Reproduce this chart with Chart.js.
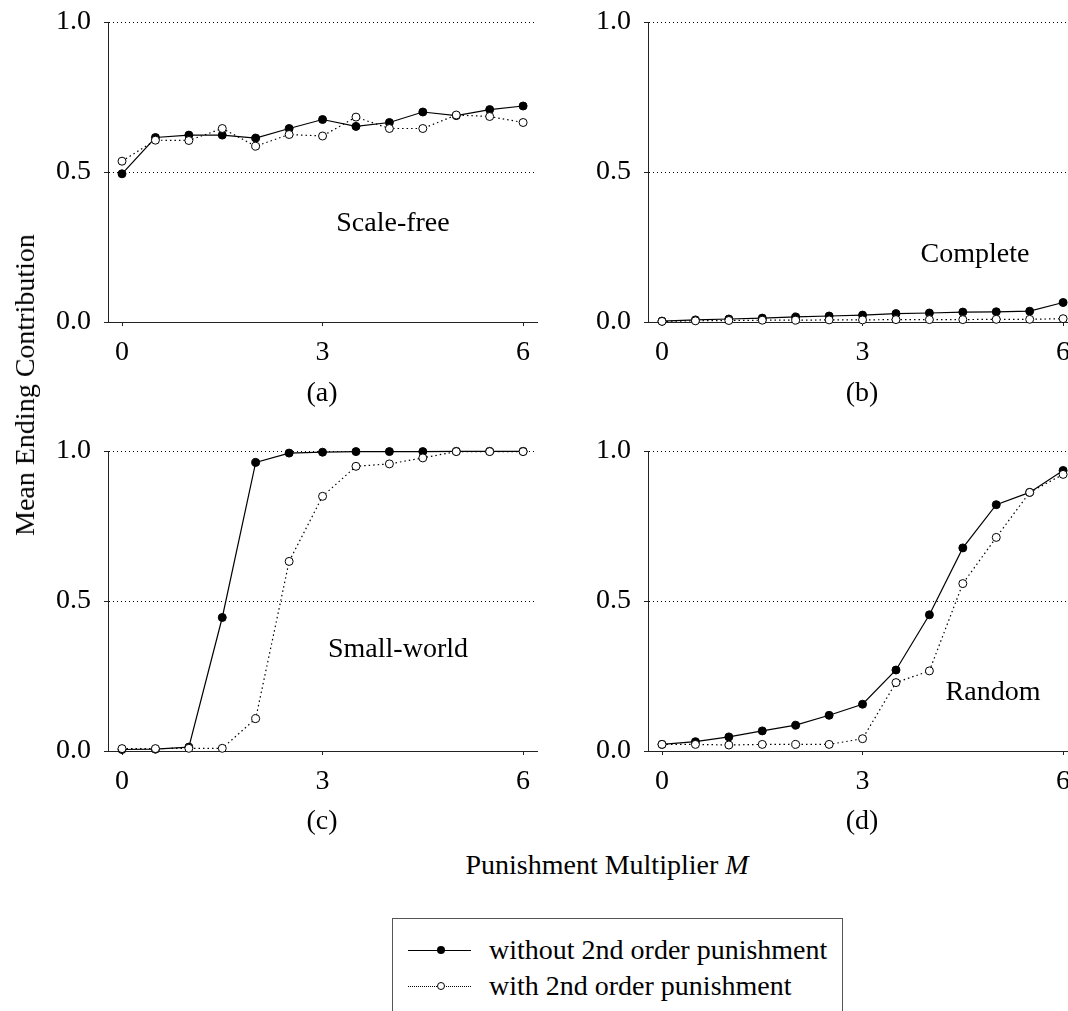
<!DOCTYPE html>
<html>
<head>
<meta charset="utf-8">
<script src="https://cdn.jsdelivr.net/npm/chart.js@4"></script>
<style>
  html, body { margin: 0; padding: 0; background: #fff; overflow: hidden; }
  body { width: 1068px; height: 1011px; position: relative; font-family: 'Liberation Serif', 'Times New Roman', serif; color: #000; }
  canvas { position: absolute; }
  .txt { position: absolute; font-size: 28px; white-space: nowrap; transform: translate(-50%, -50%); line-height: 1; }
  .ylab { position: absolute; font-size: 28px; white-space: nowrap; line-height: 1; transform: translate(-50%, -50%) rotate(-90deg); }
  #legend { position: absolute; left: 392px; top: 918px; width: 451px; height: 120px; border: 1px solid #555; box-sizing: border-box; }
  .lg-row { position: absolute; left: 0; height: 30px; }
  .lg-line { position: absolute; left: 15px; width: 63px; top: 0; }
  .lg-dot { position: absolute; border-radius: 50%; box-sizing: border-box; }
  .lg-text { position: absolute; left: 96px; font-size: 28px; white-space: nowrap; line-height: 1; transform: translateY(-50%); }
</style>
</head>
<body>
<canvas id="chartA"></canvas>
<canvas id="chartB"></canvas>
<canvas id="chartC"></canvas>
<canvas id="chartD"></canvas>

<div class="txt" style="left:393px; top:222px;">Scale-free</div>
<div class="txt" style="left:975px; top:253px;">Complete</div>
<div class="txt" style="left:398px; top:648px;">Small-world</div>
<div class="txt" style="left:993px; top:691px;">Random</div>
<div class="txt" style="left:322px; top:392px;">(a)</div>
<div class="txt" style="left:862px; top:392px;">(b)</div>
<div class="txt" style="left:322px; top:820px;">(c)</div>
<div class="txt" style="left:862px; top:820px;">(d)</div>
<div class="txt" style="left:607px; top:865px;">Punishment Multiplier <i>M</i></div>
<div class="ylab" style="left:25px; top:385px;">Mean Ending Contribution</div>

<div id="legend">
  <div class="lg-row" style="top:31px;">
    <div class="lg-line" style="border-top:1.3px solid #000;"></div>
    <div class="lg-dot" style="left:44px; top:-4px; width:8px; height:8px; background:#000;"></div>
    <div class="lg-text" style="top:0;">without 2nd order punishment</div>
  </div>
  <div class="lg-row" style="top:67px;">
    <div class="lg-line" style="border-top:1.3px dotted #000;"></div>
    <div class="lg-dot" style="left:44px; top:-4px; width:8px; height:8px; background:#fff; border:1px solid #000;"></div>
    <div class="lg-text" style="top:0;">with 2nd order punishment</div>
  </div>
</div>

<script>
// x values: punishment multiplier M
const multipliers = [0, 0.5, 1, 1.5, 2, 2.5, 3, 3.5, 4, 4.5, 5, 5.5, 6];
const xTicks = [0, 3, 6];
const yTicks = [0, 0.5, 1];

// (a) Scale-free
const scaleFreeWithout = [0.494, 0.615, 0.623, 0.623, 0.613, 0.645, 0.675, 0.652, 0.665, 0.700, 0.688, 0.708, 0.720];
const scaleFreeWith    = [0.536, 0.606, 0.605, 0.645, 0.586, 0.625, 0.620, 0.683, 0.645, 0.645, 0.690, 0.685, 0.665];
// (b) Complete
const completeWithout  = [0.003, 0.007, 0.010, 0.013, 0.017, 0.020, 0.023, 0.028, 0.030, 0.033, 0.034, 0.036, 0.065];
const completeWith     = [0.002, 0.004, 0.005, 0.006, 0.006, 0.007, 0.007, 0.008, 0.008, 0.008, 0.009, 0.009, 0.011];
// (c) Small-world
const smallWorldWithout = [0.005, 0.006, 0.013, 0.445, 0.962, 0.993, 0.996, 0.998, 0.998, 0.998, 0.999, 0.999, 0.999];
const smallWorldWith    = [0.008, 0.008, 0.009, 0.009, 0.108, 0.632, 0.849, 0.949, 0.957, 0.977, 0.998, 0.998, 0.998];
// (d) Random
const randomWithout = [0.022, 0.031, 0.047, 0.067, 0.086, 0.119, 0.156, 0.270, 0.454, 0.677, 0.821, 0.862, 0.935];
const randomWith    = [0.022, 0.022, 0.020, 0.022, 0.022, 0.022, 0.041, 0.228, 0.267, 0.558, 0.712, 0.862, 0.922];

const FONT = { family: "'Liberation Serif', 'Times New Roman', serif", size: 28 };
const AXIS_W = 108;   // space left of the plot for y labels
const AXIS_H = 70;    // space below the plot for x labels
const PAD_TOP = 36;   // room above the plot for the "1.0" label
const PLOT_H = 300;
const PX_PER_UNIT = 66.85;

function toPoints(ys) {
    return multipliers.map((m, i) => ({ x: m, y: ys[i] }));
}

function makePanel(id, plotLeft, plotTop, plotRight, withData, withoutData) {
    const canvas = document.getElementById(id);
    const padRight = 10;
    const w = AXIS_W + (plotRight - plotLeft) + padRight;
    const h = PAD_TOP + PLOT_H + AXIS_H;
    canvas.style.left = (plotLeft - AXIS_W) + 'px';
    canvas.style.top = (plotTop - PAD_TOP) + 'px';
    canvas.width = w;
    canvas.height = h;
    canvas.style.width = w + 'px';
    canvas.style.height = h + 'px';

    const xMin = -14 / PX_PER_UNIT;
    const xMax = xMin + (plotRight - plotLeft) / PX_PER_UNIT;

    return new Chart(canvas.getContext('2d'), {
        type: 'line',
        data: {
            datasets: [
                {
                    label: 'with 2nd order punishment',
                    data: toPoints(withData),
                    borderColor: '#000',
                    borderWidth: 1.2,
                    borderDash: [1.5, 3],
                    pointRadius: 4,
                    pointBackgroundColor: '#fff',
                    pointBorderColor: '#000',
                    pointBorderWidth: 1,
                    tension: 0,
                    clip: false,
                    order: 0
                },
                {
                    label: 'without 2nd order punishment',
                    data: toPoints(withoutData),
                    borderColor: '#000',
                    borderWidth: 1.2,
                    pointRadius: 4,
                    pointBackgroundColor: '#000',
                    pointBorderColor: '#000',
                    pointBorderWidth: 1,
                    tension: 0,
                    clip: false,
                    order: 1
                }
            ]
        },
        options: {
            responsive: false,
            animation: false,
            events: [],
            layout: { padding: { top: PAD_TOP, right: padRight, left: 0, bottom: 0 } },
            plugins: { legend: { display: false }, tooltip: { enabled: false } },
            scales: {
                x: {
                    type: 'linear',
                    min: xMin,
                    max: xMax,
                    afterBuildTicks: (s) => { s.ticks = xTicks.map(v => ({ value: v })); },
                    afterFit: (s) => { s.height = AXIS_H; },
                    grid: { drawOnChartArea: false, drawTicks: true, tickLength: 4, tickColor: '#222', tickWidth: 1 },
                    border: { color: '#222', width: 1 },
                    ticks: { font: FONT, color: '#000', padding: 10, maxRotation: 0, autoSkip: false, callback: v => String(v) }
                },
                y: {
                    type: 'linear',
                    min: 0,
                    max: 1,
                    afterBuildTicks: (s) => { s.ticks = yTicks.map(v => ({ value: v })); },
                    afterFit: (s) => { s.width = AXIS_W; },
                    grid: {
                        color: (c) => (c.tick && c.tick.value === 0) ? 'rgba(0,0,0,0)' : '#000',
                        lineWidth: 1,
                        drawTicks: true,
                        tickLength: 4,
                        tickColor: '#222',
                        tickWidth: 1,
                        tickBorderDash: []
                    },
                    border: { color: '#222', width: 1, dash: [1, 3] },
                    ticks: { font: FONT, color: '#000', padding: 13, autoSkip: false, callback: v => Number(v).toFixed(1) }
                }
            }
        }
    });
}

makePanel('chartA', 108, 22, 537, scaleFreeWith, scaleFreeWithout);
makePanel('chartB', 648, 22, 1085, completeWith, completeWithout);
makePanel('chartC', 108, 451, 537, smallWorldWith, smallWorldWithout);
makePanel('chartD', 648, 451, 1085, randomWith, randomWithout);
</script>
</body>
</html>
